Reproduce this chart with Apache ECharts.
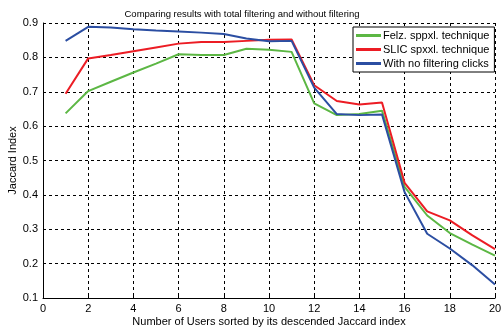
<!DOCTYPE html>
<html>
<head>
<meta charset="utf-8">
<script src="https://cdn.jsdelivr.net/npm/echarts@6/dist/echarts.min.js"></script>
<style>
html,body{margin:0;padding:0;background:#fff;}
#chart{width:502px;height:329px;}
</style>
</head>
<body>
<div id="chart"></div>
<script>
// users 1..20
var users = [1,2,3,4,5,6,7,8,9,10,11,12,13,14,15,16,17,18,19,20];
var felz  = [0.637,0.702,0.729,0.756,0.782,0.809,0.807,0.807,0.825,0.822,0.816,0.666,0.632,0.635,0.645,0.423,0.340,0.289,0.255,0.223];
var slic  = [0.694,0.797,0.807,0.818,0.829,0.840,0.845,0.845,0.848,0.851,0.852,0.719,0.673,0.663,0.669,0.435,0.352,0.326,0.282,0.242];
var nofil = [0.848,0.889,0.887,0.882,0.878,0.875,0.872,0.868,0.855,0.847,0.848,0.712,0.635,0.632,0.634,0.408,0.287,0.244,0.195,0.139];
var names = ['Felz. sppxl. technique','SLIC spxxl. technique','With no filtering clicks'];

var pairs = function(ys){ return users.map(function(u,i){ return [u, ys[i]]; }); };

var myChart = echarts.init(document.getElementById('chart'));
var font = 'Liberation Sans, Arial, sans-serif';
var mkSeries = function(name, ys, color){
    return {
        name: name,
        type: 'line',
        symbol: 'none',
        color: color,
        lineStyle: { width: 2, color: color },
        data: pairs(ys)
    };
};

var option = {
    animation: false,
    backgroundColor: '#fff',
    title: {
        text: 'Comparing results with total filtering and without filtering',
        left: 237,
        textAlign: 'center',
        top: 4,
        textStyle: { fontFamily: font, fontSize: 9.5, fontWeight: 'normal', color: '#000' }
    },
    legend: {
        orient: 'vertical',
        left: 353,
        top: 27,
        padding: [3, 5, 3, 3],
        itemGap: 3,
        itemWidth: 25,
        itemHeight: 3,
        icon: 'rect',
        backgroundColor: '#fff',
        borderColor: '#000',
        borderWidth: 1,
        borderRadius: 0,
        textStyle: { fontFamily: font, fontSize: 11, color: '#000', padding: [0,0,0,-3] },
        data: names
    },
    grid: { left: 43, right: 7, top: 23, bottom: 31, outerBoundsMode: 'none', containLabel: false },
    xAxis: {
        type: 'value',
        min: 0, max: 20, interval: 2,
        name: 'Number of Users sorted by its descended Jaccard index',
        nameLocation: 'middle',
        nameGap: 18,
        nameMoveOverlap: false,
        nameTextStyle: { fontFamily: font, fontSize: 11, color: '#000' },
        axisLine: { lineStyle: { color: '#000', width: 1 } },
        axisTick: { show: true, inside: true, length: 3, lineStyle: { color: '#000' } },
        axisLabel: { fontFamily: font, fontSize: 11, color: '#000', margin: 5 },
        splitLine: { show: true, lineStyle: { color: '#000', type: [3, 3], width: 1 } }
    },
    yAxis: {
        type: 'value',
        min: 0.1, max: 0.9, interval: 0.1,
        name: 'Jaccard Index',
        nameLocation: 'middle',
        nameGap: 25,
        nameMoveOverlap: false,
        nameTextStyle: { fontFamily: font, fontSize: 11, color: '#000' },
        axisLine: { show: true, lineStyle: { color: '#000', width: 1 } },
        axisTick: { show: true, inside: true, length: 3, lineStyle: { color: '#000' } },
        axisLabel: { fontFamily: font, fontSize: 11, color: '#000', margin: 5,
            formatter: function(v){ return v.toFixed(1); } },
        splitLine: { show: true, lineStyle: { color: '#000', type: [3, 3], width: 1 } }
    },
    series: [
        mkSeries(names[0], felz, '#5cb744'),
        mkSeries(names[1], slic, '#ec1c24'),
        mkSeries(names[2], nofil, '#2b4ea2')
    ]
};
myChart.setOption(option);
</script>
</body>
</html>
